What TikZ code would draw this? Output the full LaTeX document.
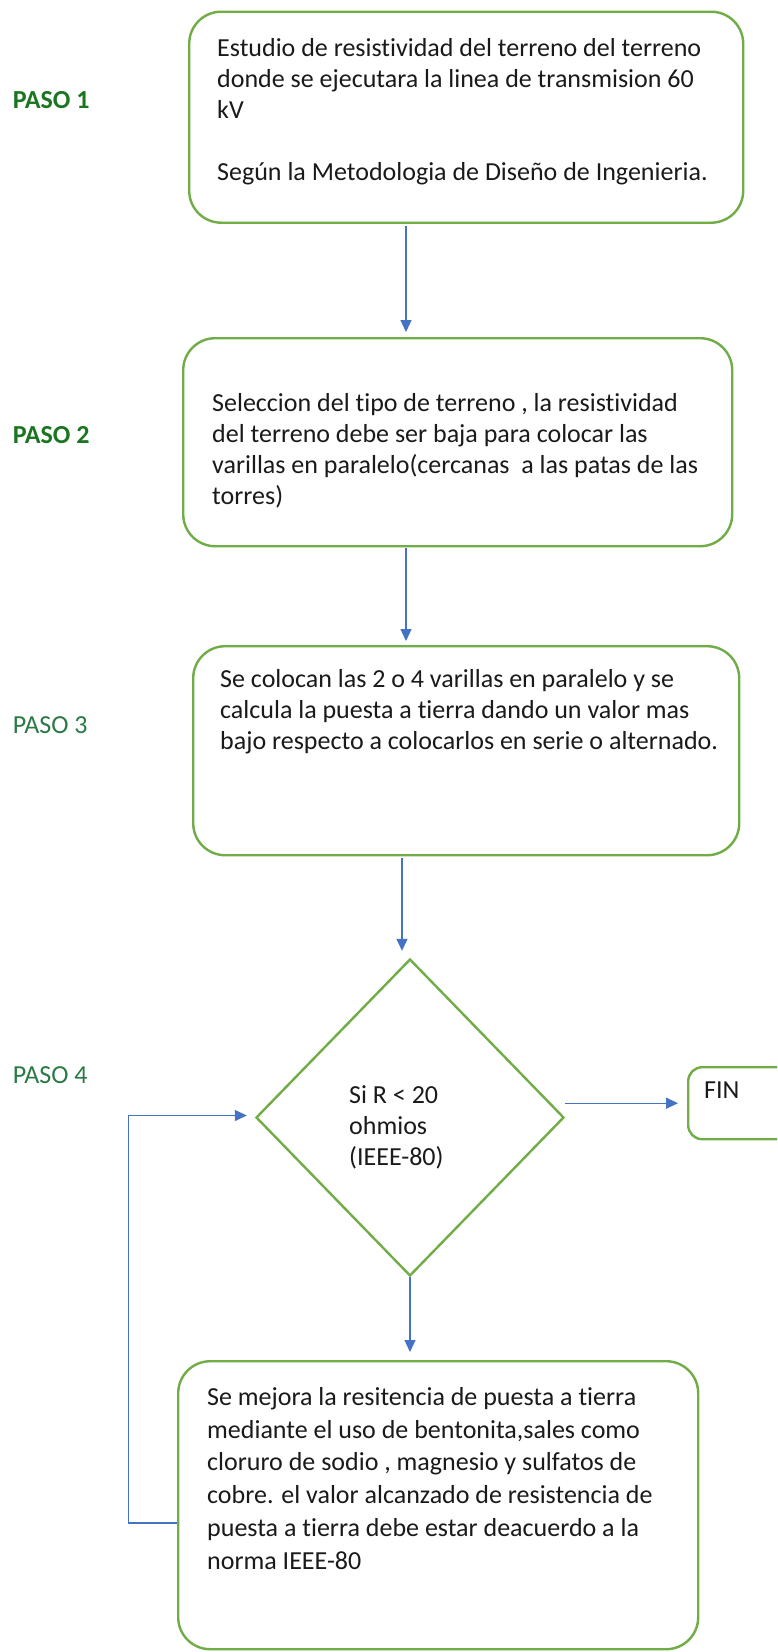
\documentclass[tikz,border=0pt]{standalone}
\usepackage{fontspec}
\setmainfont{Carlito}[Ligatures=NoCommon]
\usetikzlibrary{arrows.meta,shapes.geometric,calc}
\definecolor{boxgreen}{HTML}{70AD47}
\definecolor{arrblue}{HTML}{4472C4}
\definecolor{pasodark}{HTML}{1B7521}
\definecolor{pasolight}{HTML}{2B7A45}
\definecolor{txt}{HTML}{1A1A1A}
\begin{document}
\begin{tikzpicture}[x=1pt,y=-1pt,
  stepbox/.style={draw=boxgreen, line width=2.4pt, rounded corners=32pt, inner sep=0pt, anchor=north west},
  bodytext/.style={font=\fontsize{26}{31}\selectfont, align=left, inner sep=0pt, text=txt, anchor=north west},
  pasobold/.style={font=\fontsize{26}{31}\selectfont\bfseries, inner sep=0pt, text=pasodark, anchor=north west},
  pasoreg/.style={font=\fontsize{26}{31}\selectfont, inner sep=0pt, text=pasolight, anchor=north west},
  arr/.style={draw=arrblue, line width=1.3pt, -{Triangle[width=11pt,length=12pt]}}
]
\clip (0,0) rectangle (777,1652);
\fill[white] (0,0) rectangle (777,1652);

% boxes
\node[stepbox, minimum width=554pt, minimum height=211pt] (b1) at (188,10.5) {};
\node[stepbox, minimum width=549pt, minimum height=208pt] (b2) at (182,337) {};
\node[stepbox, minimum width=546pt, minimum height=209pt] (b3) at (192,645) {};
\node[draw=boxgreen, line width=2.4pt, shape=diamond, inner sep=0pt, minimum width=308pt, minimum height=317pt] (d) at (410,1117.5) {};
\node[stepbox, rounded corners=14pt, minimum width=130pt, minimum height=72pt] (fin) at (687,1066) {};
\node[stepbox, minimum width=520pt, minimum height=288pt] (b5) at (177,1360) {};

% texts
\node[bodytext] (t1) at (217,38.5) {Estudio de resistividad del terreno del terreno\\donde se ejecutara la linea de transmision 60\\kV\\[31pt]Según la Metodologia de Diseño de Ingenieria.};
\node[bodytext] (t2) at (212,393) {Seleccion del tipo de terreno , la resistividad\\del terreno debe ser baja para colocar las\\varillas en paralelo(cercanas\ \ a las patas de las\\torres)};
\node[bodytext] (t3) at (220,669) {Se colocan las 2 o 4 varillas en paralelo y se\\calcula la puesta a tierra dando un valor mas\\bajo respecto a colocarlos en serie o alternado.};
\node[bodytext] (td) at (349,1085) {Si R < 20\\ohmios\\(IEEE-80)};
\node[bodytext] (tf) at (704,1082) {FIN};
\node[bodytext, font=\fontsize{26}{32.8}\selectfont] (t5) at (207,1387) {Se mejora la resitencia de puesta a tierra\\mediante el uso de bentonita,sales como\\cloruro de sodio , magnesio y sulfatos de\\cobre. el valor alcanzado de resistencia de\\puesta a tierra debe estar deacuerdo a la\\norma IEEE-80};

% step labels
\node[pasobold] (p1) at (12.6,91.5) {PASO 1};
\node[pasobold] (p2) at (12.6,426.5) {PASO 2};
\node[pasoreg] (p3) at (12.6,716.5) {PASO 3};
\node[pasoreg] (p4) at (12.6,1066.5) {PASO 4};

% connectors
\coordinate (ax1) at (406,0);
\coordinate (ax3) at (402,0);
\draw[arr] ($(b1.south -| ax1)+(0,2)$) -- ($(b2.north -| ax1)+(0,-5)$);
\draw[arr] ($(b2.south -| ax1)+(0,1)$) -- ($(b3.north -| ax1)+(0,-4)$);
\draw[arr] ($(b3.south -| ax3)+(0,2)$) -- ($(d.north -| ax3)+(0,-7)$);
\draw[arr] (d.south) -- ($(b5.north -| d.south)+(0,-8)$);
\draw[arr] (d.east |- fin.west) -- ($(fin.west)+(-9,0)$);
\coordinate (lp) at (128.6,1523);
\draw[arr] (lp -| b5.west) -- (lp) |- ($(d.west)+(-8,-2)$);
\end{tikzpicture}
\end{document}
